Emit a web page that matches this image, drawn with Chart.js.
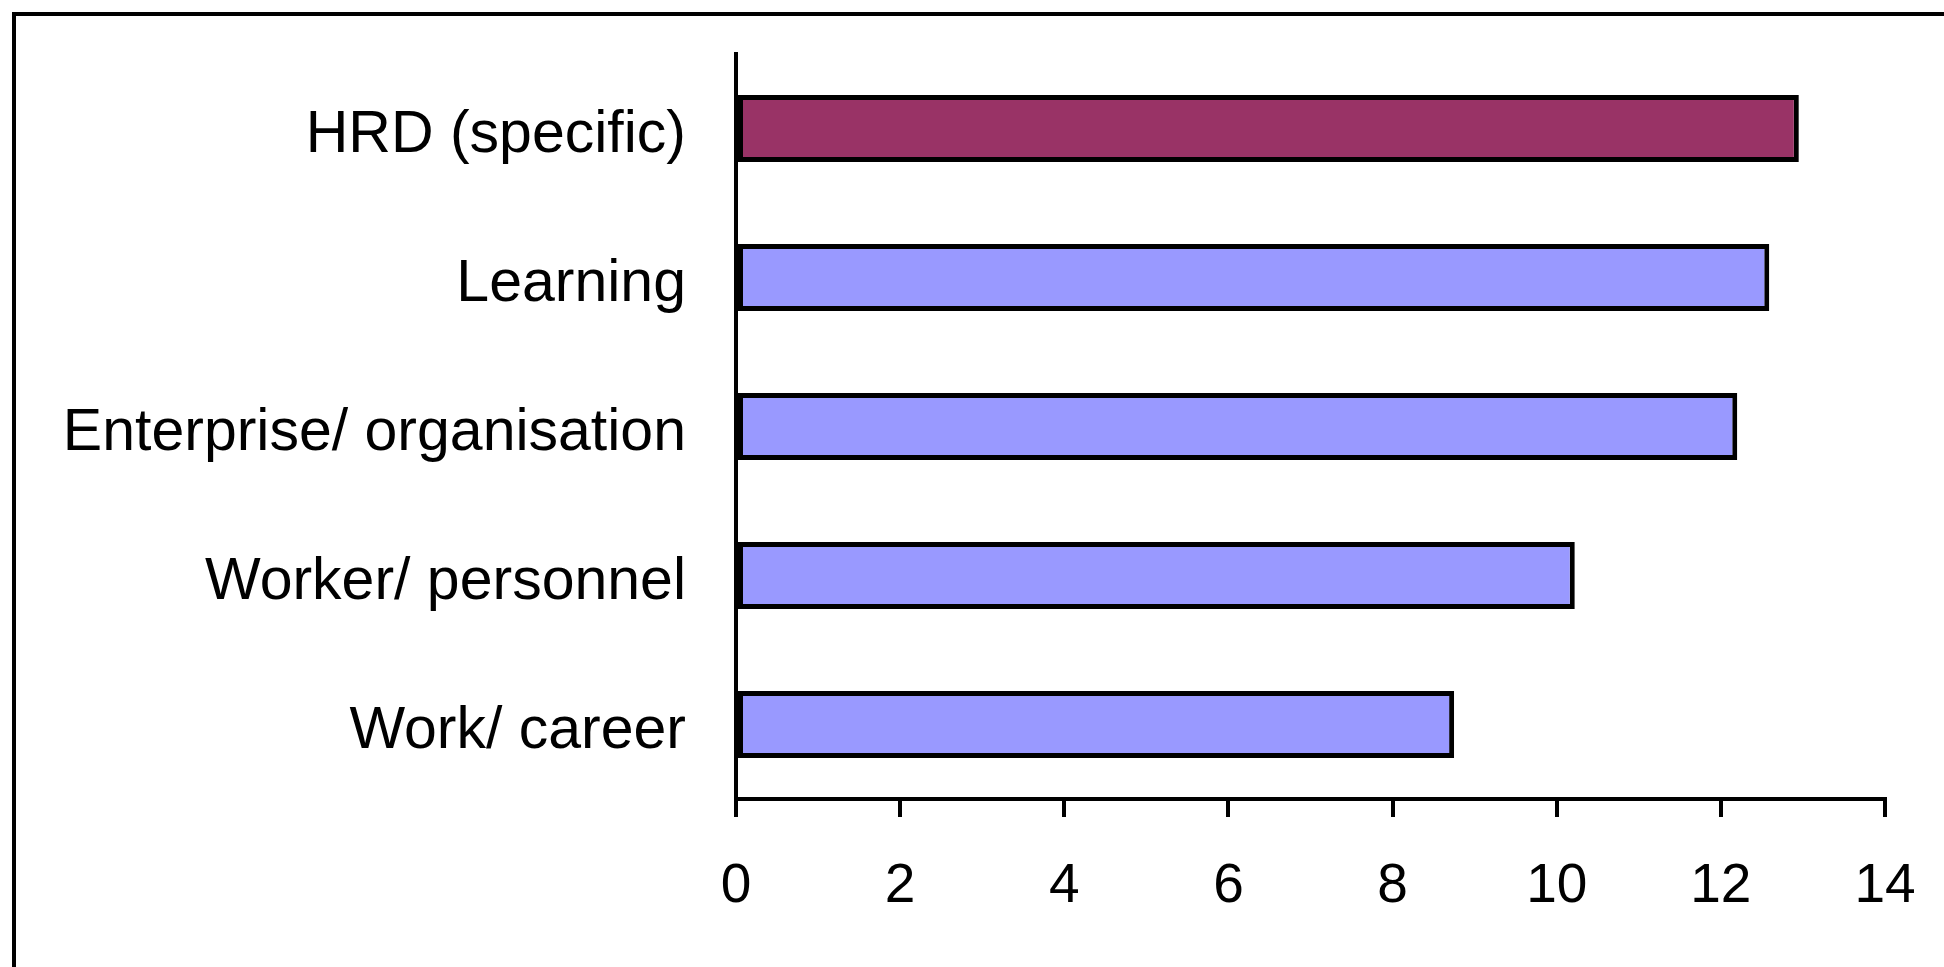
<!DOCTYPE html>
<html>
<head>
<meta charset="utf-8">
<script src="https://cdn.jsdelivr.net/npm/chart.js@4/dist/chart.umd.min.js"></script>
<style>
    html, body { margin: 0; padding: 0; background: #fff; overflow: hidden; }
    #wrap { position: relative; width: 1944px; height: 967px; overflow: hidden; }
    #frame {
        position: absolute; left: 12px; top: 12px; width: 1940px; height: 960px;
        border-left: 4px solid #000; border-top: 4px solid #000; box-sizing: border-box;
    }
    canvas { position: absolute; left: 0; top: 0; }
</style>
</head>
<body>
<div id="wrap">
    <div id="frame"></div>
    <canvas id="bar-chart" width="1944" height="967"></canvas>
</div>
<script>
// Dữ liệu
const categories = ['HRD (specific)', 'Learning', 'Enterprise/ organisation', 'Worker/ personnel', 'Work/ career'];
const values = [12.95, 12.59, 12.2, 10.22, 8.75];
const xTicks = [0, 2, 4, 6, 8, 10, 12, 14];

// Thanh đầu tiên được tô màu khác
const highlight = 'HRD (specific)';

document.addEventListener('DOMContentLoaded', function () {
    const ctx = document.getElementById('bar-chart').getContext('2d');
    const fontFamily = '"Liberation Sans", Arial, sans-serif';

    new Chart(ctx, {
        type: 'bar',
        data: {
            labels: categories,
            datasets: [{
                data: values,
                backgroundColor: categories.map(c => c === highlight ? '#993366' : '#9999FF'),
                borderColor: '#000',
                borderWidth: 5,
                borderSkipped: false,
                barPercentage: 0.45,
                categoryPercentage: 1
            }]
        },
        options: {
            indexAxis: 'y',
            responsive: false,
            animation: false,
            layout: { padding: { left: 0, top: 54, right: 59, bottom: 0 } },
            plugins: {
                legend: { display: false },
                tooltip: { enabled: false }
            },
            scales: {
                x: {
                    min: xTicks[0],
                    max: xTicks[xTicks.length - 1],
                    afterBuildTicks: scale => { scale.ticks = xTicks.map(v => ({ value: v })); },
                    afterFit: scale => {
                        scale.height = 168;
                        scale.paddingLeft = 0;
                        scale.paddingRight = 0;
                    },
                    grid: {
                        display: true,
                        drawOnChartArea: false,
                        drawTicks: true,
                        tickLength: 18,
                        color: '#000',
                        lineWidth: 4
                    },
                    border: { display: true, color: '#000', width: 4 },
                    ticks: {
                        color: '#000',
                        padding: 37,
                        maxRotation: 0,
                        font: { family: fontFamily, size: 55 }
                    }
                },
                y: {
                    afterFit: scale => {
                        scale.width = 736;
                        // bỏ khoảng đệm trên/dưới do nhãn gây ra
                        scale.paddingTop = 0;
                        scale.paddingBottom = 0;
                    },
                    grid: { display: false, drawTicks: false },
                    border: { display: true, color: '#000', width: 4 },
                    ticks: {
                        color: '#000',
                        padding: 50,
                        labelOffset: 7,
                        font: { family: fontFamily, size: 59 }
                    }
                }
            }
        }
    });
});
</script>
</body>
</html>
